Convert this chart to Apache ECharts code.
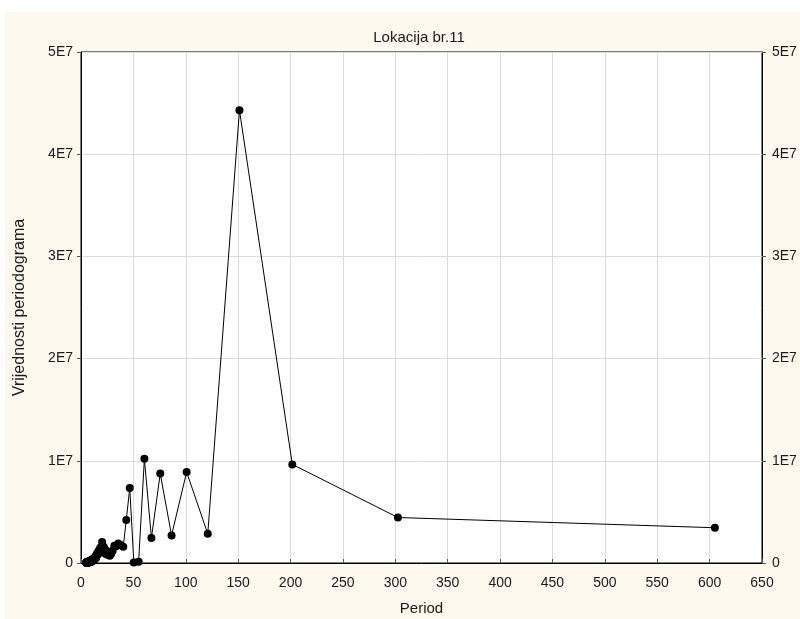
<!DOCTYPE html>
<html>
<head>
<meta charset="utf-8">
<script src="https://cdn.jsdelivr.net/npm/echarts@6/dist/echarts.min.js"></script>
<style>
  html, body { margin: 0; padding: 0; background: #ffffff; }
  #chart { width: 800px; height: 619px; }
</style>
</head>
<body>
<div id="chart"></div>
<script>
// Periodogram of location 11: Fourier periods (605 / k) and periodogram values
const periods = [
  605, 302.5, 201.67, 151.25, 121, 100.83, 86.43, 75.63, 67.22, 60.5,
  55, 50.42, 46.54, 43.21, 40.33, 37.81, 35.59, 33.61, 31.84, 30.25,
  28.81, 27.5, 26.3, 25.21, 24.2, 23.27, 22.41, 21.61, 20.86, 20.17,
  19.52, 18.91, 18.33, 17.79, 17.29, 16.81, 16.35, 15.92, 15.51, 15.13,
  14.76, 14.4, 14.07, 13.75, 13.44, 13.15, 12.87, 12.6, 12.35, 12.1,
  11.86, 11.63, 11.42, 11.2, 11, 10.8, 10.61, 10.43, 10.25, 10.08,
  9.92, 9.76, 9.6, 9.45, 9.31, 9.17, 9.03, 8.9, 8.77, 8.64,
  8.52, 8.4, 8.29, 8.18, 8.07, 7.96, 7.86, 7.76, 7.66, 7.56,
  7.47, 7.38, 7.29, 7.2, 7.12, 7.03, 6.95, 6.88, 6.8, 6.72,
  6.65, 6.58, 6.51, 6.44, 6.37, 6.3, 6.24, 6.17, 6.11, 6.05,
  5.99, 5.93, 5.87, 5.82, 5.76, 5.71, 5.65, 5.6, 5.55, 5.5,
  5.45, 5.4, 5.35, 5.31, 5.26, 5.22, 5.17, 5.13, 5.08, 5.04
];

const values = [
  3.45e6, 4.45e6, 9.65e6, 4.43e7, 2.85e6, 8.9e6, 2.7e6, 8.75e6, 2.45e6, 1.02e7,
  1.2e5, 6e4, 7.35e6, 4.2e6, 1.6e6, 1.75e6, 1.9e6, 1.65e6, 1.7e6, 1.2e6,
  9e5, 7e5, 1.0e6, 8e5, 1.2e6, 9e5, 1.4e6, 1.6e6, 1.45e6, 2.05e6,
  1.5e6, 1.35e6, 1.5e6, 1.25e6, 1.0e6, 1.2e6, 1.05e6, 8e5, 8.5e5, 9e5,
  7e5, 5e5, 6.5e5, 5.5e5, 6e5, 4.5e5, 3.5e5, 4.5e5, 4e5, 3e5,
  3.5e5, 3e5, 4e5, 3e5, 2e5, 2.5e5, 3.5e5, 2.5e5, 1.5e5, 2.5e5,
  3e5, 1.5e5, 2e5, 2.5e5, 1e5, 1.5e5, 2.5e5, 2e5, 1e5, 1.5e5,
  2e5, 1.2e5, 8e4, 1.5e5, 2e5, 1e5, 1.3e5, 7e4, 1.1e5, 1.6e5,
  9e4, 1.2e5, 6e4, 1e5, 1.4e5, 8e4, 5e4, 1.1e5, 9e4, 6e4,
  1.2e5, 7e4, 5e4, 9e4, 1e5, 6e4, 4e4, 8e4, 7e4, 5e4,
  9e4, 6e4, 4e4, 7e4, 5e4, 8e4, 3e4, 6e4, 5e4, 4e4,
  7e4, 3e4, 5e4, 6e4, 4e4, 3e4, 5e4, 4e4, 3e4, 5e4
];

const titleText = 'Lokacija br.11';
const xName = 'Period';
const yName = 'Vrijednosti periodograma';

const points = periods.map((p, i) => [p, values[i]]);

function fmtE(v) {
  if (v === 0) return '0';
  return (v / 1e7) + 'E7';
}

const font = '"Liberation Sans", Arial, sans-serif';
const textColor = '#1a1a1a';

const yAxisCommon = {
  type: 'value',
  min: 0,
  max: 5e7,
  interval: 1e7,
  axisLine: { show: true, lineStyle: { color: '#000', width: 1 } },
  axisTick: { show: true, inside: false, length: 4, lineStyle: { color: '#555' } }
};

const chart = echarts.init(document.getElementById('chart'), null, { renderer: 'canvas' });
chart.setOption({
  backgroundColor: '#ffffff',
  animation: false,
  graphic: [{
    type: 'rect',
    z: -10,
    shape: { x: 5, y: 12, width: 795, height: 607 },
    style: { fill: '#fdf9ee' }
  }],
  title: {
    text: titleText,
    left: 414,
    top: 25,
    textAlign: 'center',
    textStyle: { fontFamily: font, fontSize: 15, fontWeight: 'normal', color: textColor }
  },
  grid: {
    left: 81, right: 38, top: 52, bottom: 56,
    outerBoundsMode: 'none',
    containLabel: false,
    show: true,
    backgroundColor: '#ffffff',
    borderColor: '#000',
    borderWidth: 1
  },
  xAxis: {
    type: 'value',
    min: 0,
    max: 650,
    interval: 50,
    name: xName,
    nameLocation: 'middle',
    nameGap: 38,
    nameTextStyle: { fontFamily: font, fontSize: 15, color: textColor },
    axisLine: { show: true, onZero: false, lineStyle: { color: '#000', width: 1 } },
    axisTick: { show: true, inside: true, length: 4, lineStyle: { color: '#555' } },
    axisLabel: { color: textColor, fontFamily: font, fontSize: 14, margin: 13 },
    splitLine: { show: true, lineStyle: { color: '#dcdcdc', width: 1 } }
  },
  yAxis: [
    Object.assign({}, yAxisCommon, {
      position: 'left',
      name: yName,
      nameLocation: 'middle',
      nameGap: 53,
      nameTextStyle: { fontFamily: font, fontSize: 16, color: textColor },
      axisLabel: { formatter: fmtE, color: textColor, fontFamily: font, fontSize: 14, margin: 8 },
      splitLine: { show: true, lineStyle: { color: '#dcdcdc', width: 1 } }
    }),
    Object.assign({}, yAxisCommon, {
      position: 'right',
      axisLabel: { formatter: fmtE, color: textColor, fontFamily: font, fontSize: 14, margin: 10 },
      splitLine: { show: false }
    })
  ],
  series: [{
    type: 'line',
    data: points,
    yAxisIndex: 0,
    symbol: 'circle',
    symbolSize: 8,
    showAllSymbol: true,
    clip: false,
    lineStyle: { color: '#000', width: 1 },
    itemStyle: { color: '#000' }
  }]
});
</script>
</body>
</html>
